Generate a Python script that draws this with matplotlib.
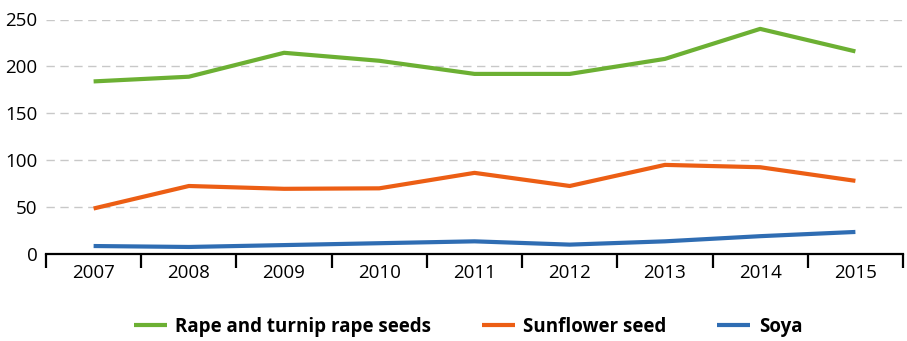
import numpy as np
import matplotlib.pyplot as plt

years = ['2007', '2008', '2009', '2010', '2011', '2012', '2013', '2014', '2015']
rape = [184, 189, 214.5, 206, 192, 192, 208, 240, 216]
sunflower = [48.5, 72.5, 69.5, 70, 86.5, 72.5, 95, 92.5, 78]
soya = [8.5, 7.5, 9.5, 11.5, 13.5, 10, 13.5, 19, 23.5]

plt.rcParams['font.family'] = ['Open Sans', 'DejaVu Sans']

fig = plt.figure(figsize=(9.07, 3.41), dpi=100)
ax = fig.add_axes([46 / 907, 1 - 254 / 341, (903 - 46) / 907, (254 - 19.5) / 341])

x = np.arange(len(years))
ax.plot(x, rape, color='#6cb033', lw=3, label='Rape and turnip rape seeds', solid_capstyle='butt')
ax.plot(x, sunflower, color='#ec5e14', lw=3, label='Sunflower seed', solid_capstyle='butt')
ax.plot(x, soya, color='#2f6db3', lw=3, label='Soya', solid_capstyle='butt')

ax.set_xlim(-0.5, len(years) - 0.5)
ax.set_ylim(0, 250)
ax.set_yticks([0, 50, 100, 150, 200, 250])
ax.yaxis.grid(True, color='#c8c8c8', ls=(0, (6, 4)), lw=1)
ax.set_axisbelow(True)
ax.tick_params(axis='y', length=0, pad=6, labelsize=13.5)

# boundary ticks between years, labels centred on each year
ax.set_xticks(np.arange(-0.5, len(years)), labels=[])
ax.set_xticks(x, labels=years, minor=True)
ax.tick_params(axis='x', which='major', length=10, width=1.6, color='black')
ax.tick_params(axis='x', which='minor', length=0, pad=7, labelsize=13.5)

for s in ['top', 'right', 'left']:
    ax.spines[s].set_visible(False)
ax.spines['bottom'].set_linewidth(1.6)

fig.legend(loc='center', bbox_to_anchor=(468 / 907, 1 - 327 / 341), ncol=3, frameon=False,
           prop={'weight': 'bold', 'size': 13.5}, handlelength=1.76, columnspacing=2.7,
           handletextpad=0.45)

fig.savefig('out.png', dpi=100)
